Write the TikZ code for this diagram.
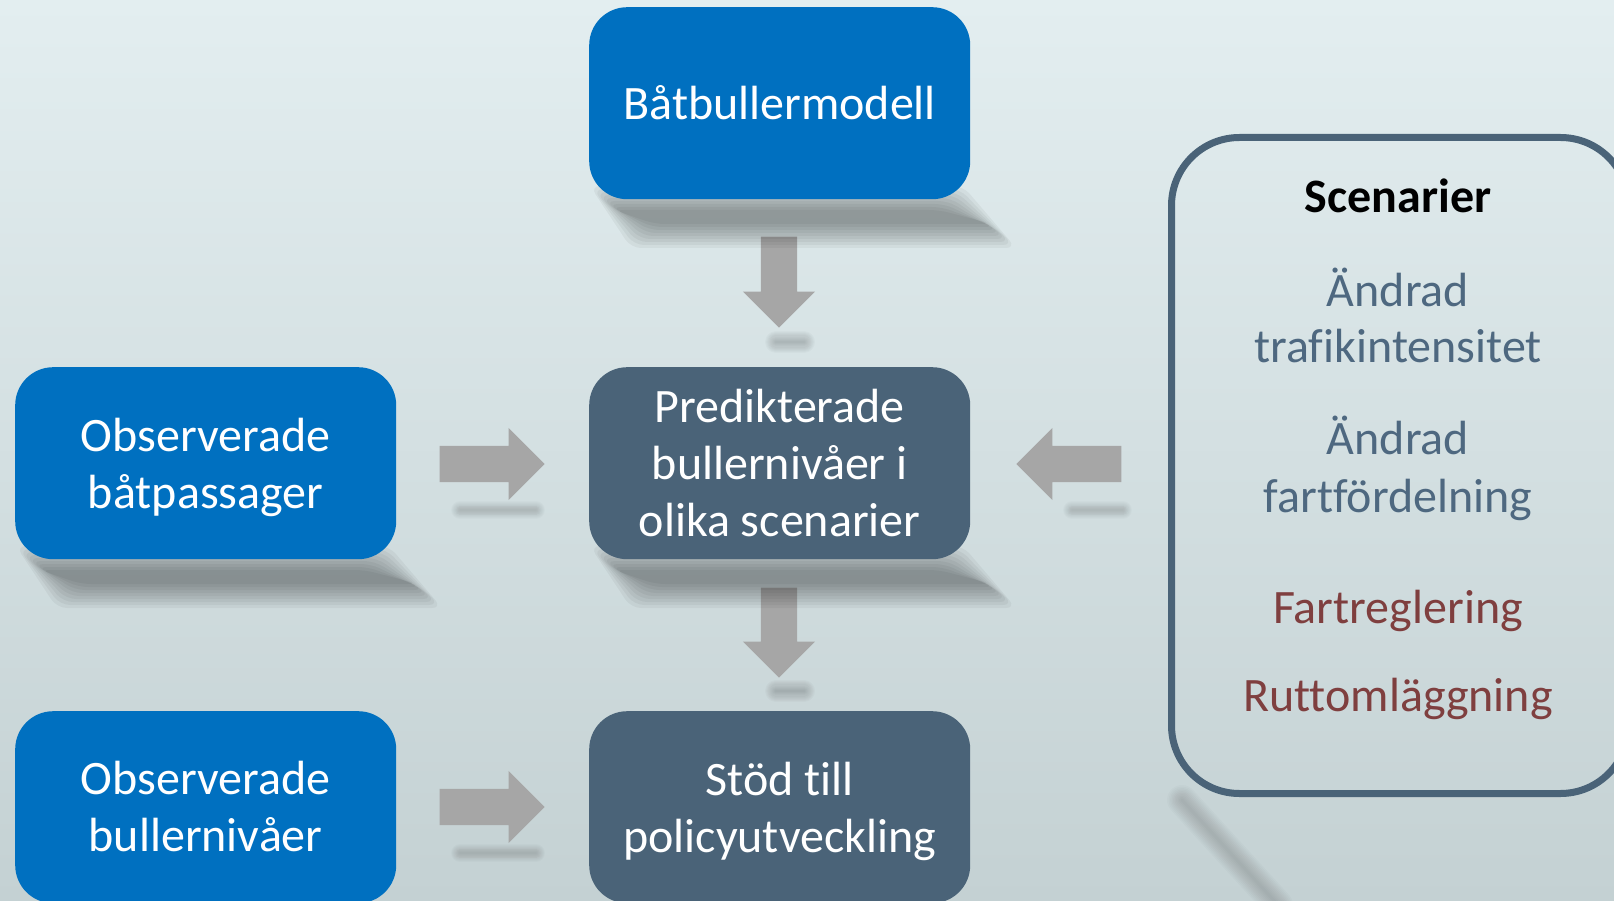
\documentclass[tikz,border=0pt]{standalone}
\usepackage{fontspec}
\setmainfont{Carlito}[Ligatures={NoCommon}]
\usetikzlibrary{shapes.arrows}
\definecolor{bgtop}{HTML}{E3EEF0}
\definecolor{bgbot}{HTML}{C4D1D3}
\definecolor{boxblue}{HTML}{0070C0}
\definecolor{slate}{HTML}{4A6378}
\definecolor{arrowgray}{HTML}{A6A6A6}
\definecolor{scred}{HTML}{7F3F3F}
\definecolor{sctext}{HTML}{4E6880}
% soft line shadow: #1 max width, #2 opacity per layer, #3 path
\newcommand\softshadow[3]{%
  \foreach \k in {1,...,10}{%
    \pgfmathsetmacro\lw{\k*#1/10}%
    \draw[black, opacity=#2, line width=\lw pt, line join=round, line cap=round] #3;}%
}
% soft box shadow (nested fills), drawn for the box at the top; shift with a scope
\newcommand\boxshadow{%
  \foreach \k in {0,...,8}{%
    \pgfmathsetmacro\d{3*\k}%
    \fill[black, opacity=0.045, rounded corners=10pt]
      (590+\d,186+\d) -- (963-\d,186+\d) -- (1016-\d,248-\d) -- (631+\d,248-\d) -- cycle;}%
}
\begin{document}
\begin{tikzpicture}[x=1pt,y=-1pt,
  box/.style={rounded corners=38pt, minimum width=381pt, minimum height=192pt, inner sep=0pt, anchor=north west},
  bluebox/.style={box, fill=boxblue},
  slatebox/.style={box, fill=slate},
  boxtext/.style={text=white, font=\fontsize{48}{57}\selectfont, align=center, inner sep=0pt},
  blockarrow/.style={single arrow, fill=arrowgray, inner sep=18pt, minimum width=72pt,
    single arrow head extend=18pt, single arrow tip angle=90, anchor=tip},
  sctitle/.style={font=\fontsize{48}{57}\selectfont\bfseries, text=black, anchor=base, inner sep=0pt},
  scitem/.style={font=\fontsize{48}{57}\selectfont, text=sctext, anchor=base, inner sep=0pt},
  scred/.style={font=\fontsize{48}{57}\selectfont, text=scred, anchor=base, inner sep=0pt},
]
\useasboundingbox (0,0) rectangle (1614,901);
\clip (0,0) rectangle (1614,901);
\shade[top color=bgtop, bottom color=bgbot] (0,0) rectangle (1614,901);

% block arrows
\node[blockarrow, minimum height=91pt, shape border rotate=270] (d1) at (779,328) {};
\node[blockarrow, minimum height=90pt, shape border rotate=270] (d2) at (779,678) {};
\node[blockarrow, minimum height=105pt] (r1) at (545,464) {};
\node[blockarrow, minimum height=105pt] (r2) at (545,807) {};
\node[blockarrow, minimum height=105pt, shape border rotate=180] (l1) at (1016,464) {};

% shadows
\boxshadow
\begin{scope}[shift={(0,360)}]\boxshadow\end{scope}
\begin{scope}[shift={(-574,360)}]\boxshadow\end{scope}
\softshadow{18}{0.016}{(460,510) -- (536,510)}
\softshadow{18}{0.016}{(460,853) -- (536,853)}
\softshadow{18}{0.016}{(1072,510) -- (1123,510)}
\softshadow{22}{0.02}{(776,342) -- (804,342)}
\softshadow{22}{0.02}{(776,691) -- (804,691)}
\softshadow{30}{0.014}{(1182,800) -- (1278,905)}

% boxes
\node[bluebox] (model) at (589,7) {};
\node[bluebox] (obs1) at (15,367) {};
\node[slatebox] (pred) at (589,367) {};
\node[bluebox] (obs2) at (15,711) {};
\node[slatebox] (stod) at (589,711) {};
\node[boxtext] (tmodel) at ([yshift=1pt]model.center) {Båtbullermodell};
\node[boxtext] (tobs1) at ([yshift=-4pt]obs1.center) {Observerade\\båtpassager};
\node[boxtext] (tpred) at (pred.center) {Predikterade\\bullernivåer i\\olika scenarier};
\node[boxtext] (tobs2) at ([yshift=1pt]obs2.center) {Observerade\\bullernivåer};
\node[boxtext] (tstod) at ([yshift=-4pt]stod.center) {Stöd till\\policyutveckling};

% scenario panel
\node[draw=slate, line width=7pt, rounded corners=68pt, minimum width=457pt, minimum height=656pt,
  inner sep=0pt, anchor=north west] (scen) at (1168,134) {};
\node[sctitle] (sct) at (1398,213) {Scenarier};
\node[scitem] (s1a) at (1398,306) {Ändrad};
\node[scitem] (s1b) at (1398,362) {trafikintensitet};
\node[scitem] (s2a) at (1398,454) {Ändrad};
\node[scitem] (s2b) at (1398,512) {fartfördelning};
\node[scred] (s3) at (1398,623) {Fartreglering};
\node[scred] (s4) at (1398,711) {Ruttomläggning};
\end{tikzpicture}
\end{document}
